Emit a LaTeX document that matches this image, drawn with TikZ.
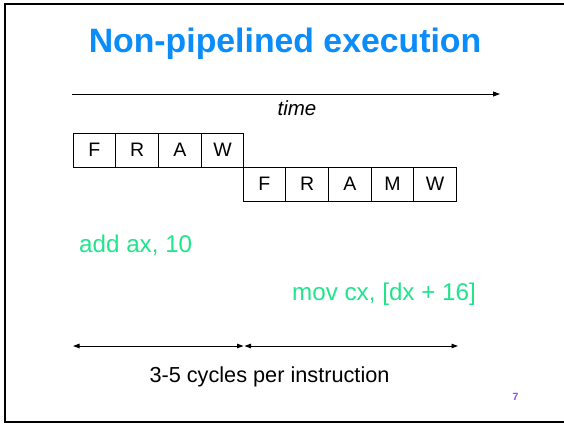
\documentclass[tikz,border=0pt]{standalone}
\usepackage{fontspec}
\setmainfont{Liberation Sans}
\usetikzlibrary{arrows.meta}
\definecolor{titleblue}{RGB}{10,140,250}
\definecolor{codegreen}{RGB}{34,228,140}
\definecolor{pagepurple}{RGB}{150,70,255}
\tikzset{
  stage/.style={draw, line width=0.9pt, minimum width=42.7pt, minimum height=34pt,
    inner sep=0pt, font=\fontsize{19.5}{22}\selectfont},
  codetext/.style={text=codegreen, font=\fontsize{24.2}{28}\selectfont, inner sep=0pt},
  span/.style={line width=0.9pt, {Triangle[length=6.5pt,width=4.5pt]}-{Triangle[length=6.5pt,width=4.5pt]}},
}
\begin{document}
\begin{tikzpicture}[x=1pt, y=-1pt]
\useasboundingbox (0,0) rectangle (564,424);
\clip (0,0) rectangle (564,424);
\fill[white] (0,0) rectangle (564,424);
% slide frame
\draw[line width=2.2pt] (5,4) rectangle (600,422);

% title
\node[anchor=base, text=titleblue, font=\bfseries\fontsize{33.8}{40}\selectfont, inner sep=0pt]
  (title) at (285,52) {Non-pipelined execution};

% time axis
\coordinate (t0) at (72,94);
\coordinate (t1) at (500,94);
\draw[line width=0.9pt, -{Triangle[length=7pt,width=5pt]}] (t0) -- (t1);
\node[anchor=base, font=\itshape\fontsize{20.5}{24}\selectfont, inner sep=0pt] (time) at (297,115) {time};

% first instruction: F R A W
\node[stage] (f1) at (94.35,150) {F};
\node[stage] (r1) at (137.05,150) {R};
\node[stage] (a1) at (179.75,150) {A};
\node[stage] (w1) at (222.45,150) {W};

% second instruction: F R A M W
\node[stage] (f2) at (264.35,184) {F};
\node[stage] (r2) at (307.05,184) {R};
\node[stage] (a2) at (349.75,184) {A};
\node[stage] (m2) at (392.45,184) {M};
\node[stage] (w2) at (435.15,184) {W};

% instructions
\node[codetext, anchor=base west] (add) at (79,252) {add ax, 10};
\node[codetext, anchor=base west] (mov) at (292,300) {mov cx, [dx + 16]};

% cycle spans
\coordinate (s0) at (73,346);
\coordinate (s1) at (243.5,346);
\coordinate (s2) at (244.5,346);
\coordinate (s3) at (458,346);
\draw[span] (s0) -- (s1);
\draw[span] (s2) -- (s3);
\node[anchor=base, font=\fontsize{21.7}{26}\selectfont, inner sep=0pt] (cpi) at (269.5,382) {3-5 cycles per instruction};

% page number
\node[text=pagepurple, font=\bfseries\fontsize{10.5}{12}\selectfont, inner sep=0pt] (pg) at (515.5,397) {7};
\end{tikzpicture}
\end{document}
